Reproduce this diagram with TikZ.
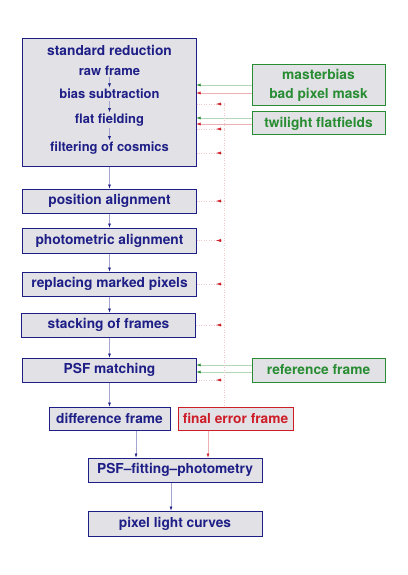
\documentclass[tikz,border=0pt]{standalone}
\usepackage{fontspec}
\setmainfont{TeX Gyre Heros}
\usetikzlibrary{arrows.meta}
\usetikzlibrary{decorations.markings}

\definecolor{stepblue}{RGB}{30,30,135}
\definecolor{boxgray}{RGB}{226,226,230}
\definecolor{inputgreen}{RGB}{40,140,50}
\definecolor{errred}{RGB}{205,30,40}

\tikzset{
  stepbox/.style={draw=stepblue,fill=boxgray,line width=1bp,text=stepblue,
    font=\bfseries\fontsize{13.8}{19}\selectfont,inner sep=0pt,
    minimum width=173bp,minimum height=24bp},
  inputbox/.style={stepbox,draw=inputgreen,text=inputgreen,minimum width=133bp,align=center},
  errbox/.style={stepbox,draw=errred,text=errred},
  substep/.style={text=stepblue,font=\bfseries\fontsize{13}{15}\selectfont,inner sep=1.5pt},
  flow/.style={draw=stepblue!40,line width=0.5bp,-{Latex[length=4bp,width=3bp,color=stepblue]}},
  inflow/.style={draw=#1!35,line width=0.5bp,-{Latex[length=4bp,width=3bp,color=#1]}},
  errflow/.style={draw=errred!25,line width=0.5bp,dotted},
  errtick/.style={errflow,postaction={decorate},
    decoration={markings,mark=at position 8bp with {\arrow{Latex[length=5bp,width=3bp,color=errred]}}}}
}

\begin{document}
\begin{tikzpicture}[x=1bp,y=-1bp]
\fill[white] (0,0) rectangle (407,575);
\useasboundingbox (0,0) rectangle (407,575);

% reduction steps
\node[stepbox,minimum height=127bp] (std) at (109.5,102.5) {};
\node[substep,font=\bfseries\fontsize{13.8}{16}\selectfont] (title) at (109.5,50) {standard reduction};
\node[substep] (raw) at (109.5,71) {raw frame};
\node[substep] (bias) at (109.5,94) {bias subtraction};
\node[substep] (flat) at (109.5,120) {flat fielding};
\node[substep] (filt) at (109.5,148) {filtering of cosmics};
\node[stepbox] (pos) at (109.5,201) {position alignment};
\node[stepbox,minimum height=25bp] (phot) at (109.5,240.5) {photometric alignment};
\node[stepbox] (repl) at (109.5,284) {replacing marked pixels};
\node[stepbox] (stack) at (108.5,325) {stacking of frames};
\node[stepbox] (psf) at (109.5,370) {PSF matching};
\node[stepbox,minimum width=121bp,minimum height=23bp] (diff) at (109.5,418.5) {difference frame};
\node[errbox,minimum width=115bp,minimum height=23bp] (ferr) at (235.5,418.5) {final error frame};
\node[stepbox,minimum width=174bp] (fit) at (175,470) {PSF--fitting--photometry};
\node[stepbox,minimum width=174bp,minimum height=25bp] (plc) at (175,523.5) {pixel light curves};

% extra input data
\node[inputbox,minimum height=41bp] (mbias) at (318.5,85.5) {masterbias\\bad pixel mask};
\node[inputbox,minimum height=23bp] (twil) at (318.5,123.5) {twilight flatfields};
\node[inputbox] (ref) at (318.5,370) {reference frame};

% main flow
\draw[flow] (raw) -- (bias);
\draw[flow] (bias) -- (flat);
\draw[flow] (flat) -- (filt);
\draw[flow] (std.south) -- (pos.north);
\draw[flow] (pos) -- (phot);
\draw[flow] (phot) -- (repl);
\draw[flow] (repl.south) -- (repl.south |- stack.north);
\draw[flow] (stack.south -| psf.north) -- (psf.north);
\draw[flow] (psf) -- (diff);
\draw[flow] ([xshift=26.5bp]diff.south) -- ([xshift=26.5bp]diff.south |- fit.north);
\draw[flow] ([xshift=-4bp]fit.south) -- ([xshift=-4bp]fit.south |- plc.north);

% inputs
\draw[inflow=inputgreen] ([yshift=0.5bp]mbias.west) -- ([yshift=0.5bp]mbias.west -| std.east);
\draw[inflow=errred] ([yshift=-7.5bp]mbias.west) -- ([yshift=-7.5bp]mbias.west -| std.east);
\draw[inflow=inputgreen] ([yshift=5.5bp]twil.west) -- ([yshift=5.5bp]twil.west -| std.east);
\draw[inflow=errred] ([yshift=-0.5bp]twil.west) -- ([yshift=-0.5bp]twil.west -| std.east);
\draw[inflow=inputgreen] ([yshift=5bp]ref.west) -- ([yshift=5bp]ref.west -| psf.east);
\draw[inflow=inputgreen] ([yshift=-2bp]ref.west) -- ([yshift=-2bp]ref.west -| psf.east);

% error propagation
\coordinate (etop) at (224,103);
\draw[errflow] (etop) -- (etop |- ferr.north);
\draw[draw=none,-{Latex[length=4bp,width=3bp,color=errred]}] ([yshift=5bp]etop |- ferr.north) -- (etop |- ferr.north);
\foreach \stp/\y in {std/104,std/129,std/153,pos/201,phot/240.5,repl/284,stack/325,psf/380}{
  \coordinate (e) at (224,\y);
  \draw[errtick] (e) -- (\stp.east |- e);
}
\draw[inflow=errred] ([xshift=-27.5bp]ferr.south) -- ([xshift=-27.5bp]ferr.south |- fit.north);

\end{tikzpicture}
\end{document}
